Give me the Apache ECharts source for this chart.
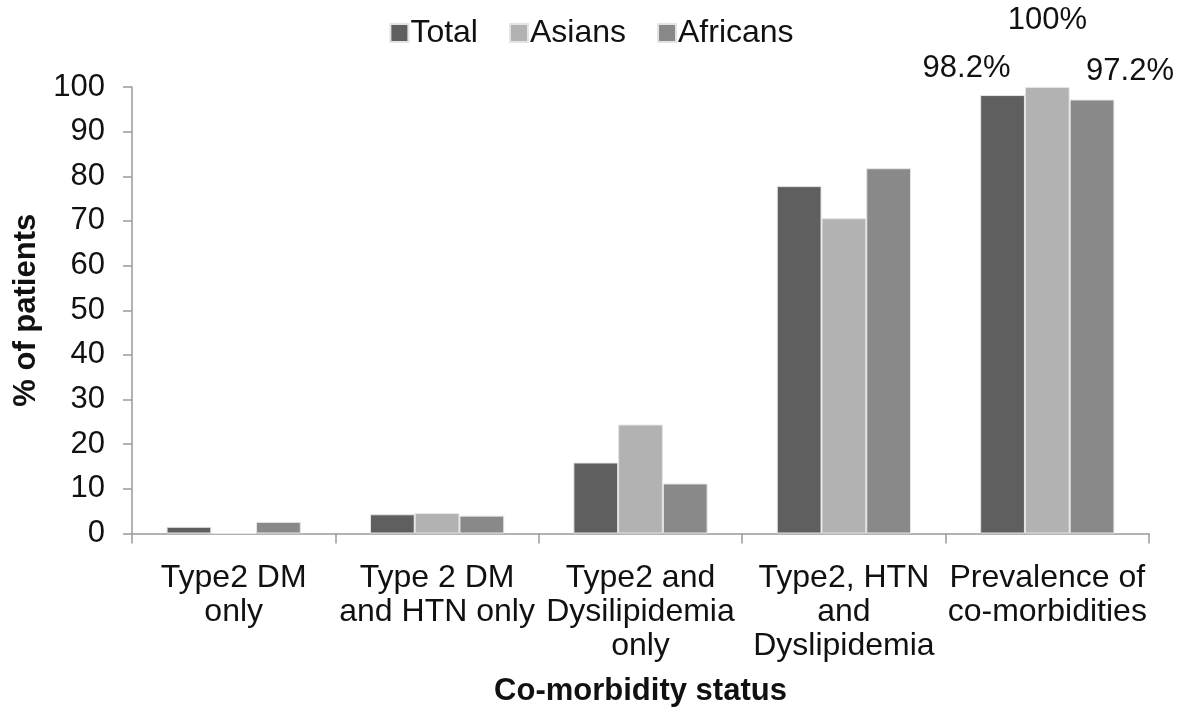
<!DOCTYPE html>
<html>
<head>
<meta charset="utf-8">
<script src="https://cdn.jsdelivr.net/npm/echarts@6/dist/echarts.min.js"></script>
<style>html,body{margin:0;padding:0;background:#fff;}#c{width:1183px;height:713px;}</style>
</head>
<body>
<div id="c"></div>
<script>
const categories = [
  'Type2 DM\nonly',
  'Type 2 DM\nand HTN only',
  'Type2 and\nDysilipidemia\nonly',
  'Type2, HTN\nand\nDyslipidemia',
  'Prevalence of\nco-morbidities'
];
const seriesNames = ['Total', 'Asians', 'Africans'];
const totalValues = [1.5, 4.3, 15.9, 77.8, 98.2];
const asiansValues = [0, 4.6, 24.4, 70.6, 100];
const africansValues = [2.6, 4.0, 11.2, 81.8, 97.2];
const labelledIndex = 4;

const colors = ['#5f5f5f', '#b2b2b2', '#898989'];
const labelOffsets = [[-36, -6], [0, -46], [38, -8]];
const FONT = '"Liberation Sans", Arial, sans-serif';

function makeData(values, si) {
  return values.map((v, i) => {
    if (i !== labelledIndex) return v;
    return {
      value: v,
      label: {
        show: true,
        position: 'top',
        distance: 5,
        offset: labelOffsets[si],
        formatter: (p) => p.value + '%',
        color: '#111',
        fontSize: 31,
        fontFamily: FONT
      }
    };
  });
}

const allValues = [totalValues, asiansValues, africansValues];

const chart = echarts.init(document.getElementById('c'), null, {renderer: 'canvas'});
chart.setOption({
  animation: false,
  backgroundColor: '#fff',
  textStyle: {fontFamily: FONT},
  legend: {
    data: seriesNames,
    top: 12,
    left: 'center',
    itemWidth: 18,
    itemHeight: 18,
    itemGap: 31,
    icon: 'rect',
    textStyle: {fontSize: 32, color: '#111', fontFamily: FONT, padding: [0, 0, 0, -3]}
  },
  grid: {left: 132, right: 34, top: 87, bottom: 179.5, containLabel: false, outerBoundsMode: 'none'},
  xAxis: {
    type: 'category',
    data: categories,
    name: 'Co-morbidity status',
    nameLocation: 'middle',
    nameGap: 142,
    nameTextStyle: {fontSize: 31, fontWeight: 'bold', color: '#111', fontFamily: FONT},
    axisLine: {lineStyle: {color: '#9a9a9a', width: 1.5}},
    axisTick: {show: true, length: 10, lineStyle: {color: '#9a9a9a', width: 1.5}},
    axisLabel: {fontSize: 32, color: '#111', lineHeight: 34, margin: 28, fontFamily: FONT, interval: 0}
  },
  yAxis: {
    type: 'value',
    min: 0,
    max: 100,
    interval: 10,
    name: '% of patients',
    nameLocation: 'middle',
    nameGap: 90,
    nameTextStyle: {fontSize: 31, fontWeight: 'bold', color: '#111', fontFamily: FONT},
    splitLine: {show: false},
    axisLine: {show: true, lineStyle: {color: '#9a9a9a', width: 1.5}},
    axisTick: {show: true, length: 9, lineStyle: {color: '#9a9a9a', width: 1.5}},
    axisLabel: {fontSize: 31, color: '#111', margin: 27, fontFamily: FONT}
  },
  series: seriesNames.map((name, si) => ({
    name: name,
    type: 'bar',
    data: makeData(allValues[si], si),
    barGap: '0%',
    barCategoryGap: '34%',
    itemStyle: {color: colors[si], borderColor: '#e4e4e4', borderWidth: 1}
  }))
});
</script>
</body>
</html>
